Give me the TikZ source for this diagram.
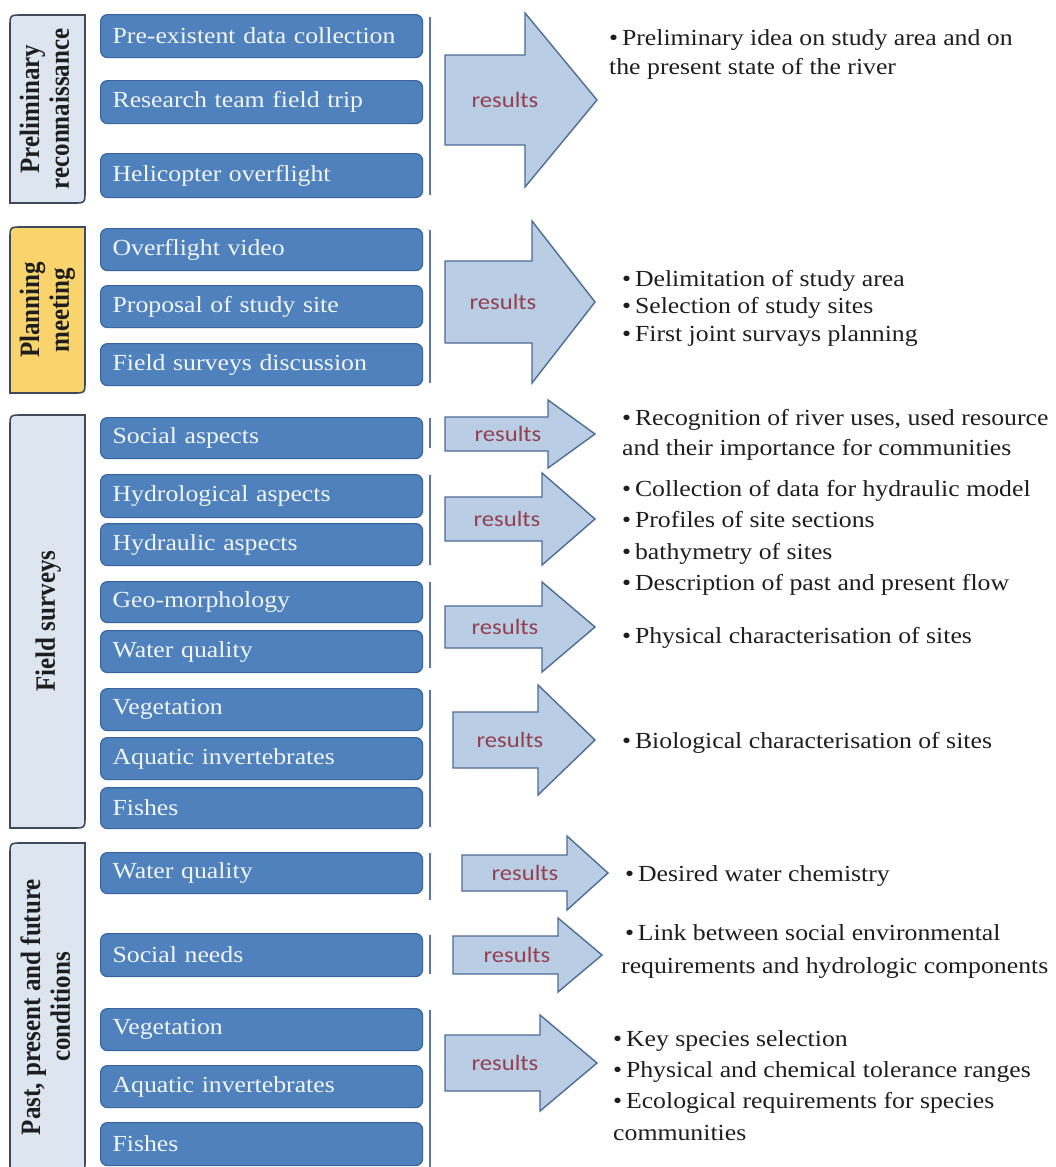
\documentclass[tikz,border=0pt]{standalone}
\usepackage{graphicx}
\usepackage{fontspec}
\setmainfont{Liberation Serif}[FakeStretch=1.12]
\newfontfamily\labelfont{Liberation Serif}
\newfontfamily\resfont{Carlito}[FakeStretch=1.12]
\definecolor{itemblue}{HTML}{4F81BD}
\definecolor{itemedge}{HTML}{3A64A0}
\definecolor{itemtext}{HTML}{F2F5FA}
\definecolor{arrowfill}{HTML}{B9CDE5}
\definecolor{arrowedge}{HTML}{4E6C98}
\definecolor{barcol}{HTML}{5A78A8}
\definecolor{phasefill}{HTML}{DDE5F0}
\definecolor{phaseedge}{HTML}{3E4A5A}
\definecolor{planfill}{HTML}{F9D46C}
\definecolor{rescol}{HTML}{94404F}
\definecolor{ink}{HTML}{1E1E1E}
\tikzset{
  item/.style={draw=itemedge, fill=itemblue, line width=1.2pt, rounded corners=7pt,
    anchor=north west, minimum width=322pt, text width=298pt, inner xsep=12pt,
    align=left, text=itemtext, font=\fontsize{23}{27}\selectfont},
  phase/.style={draw=phaseedge, fill=phasefill, line width=1.6pt},
  phasetext/.style={rotate=90, text=ink, inner sep=0pt,
    font=\labelfont\fontsize{25}{26.5}\selectfont\bfseries},
  resarrow/.style={draw=arrowedge, fill=arrowfill, line width=1.4pt, line join=miter},
  restext/.style={text=rescol, font=\resfont\fontsize{22}{24}\selectfont},
  bar/.style={draw=barcol, line width=2.5pt},
  outcome/.style={anchor=north west, align=left, text=ink, inner sep=0pt},
}
% block arrow: name, left x, head x, tip x, centre y, body half, head half, label x
\newcommand\resarrow[8]{%
  \path[resarrow] (#2,#5-#6) -- (#3,#5-#6) -- (#3,#5-#7) -- (#4,#5)
     -- (#3,#5+#7) -- (#3,#5+#6) -- (#2,#5+#6) -- cycle;
  \node[restext] (#1) at (#8,#5) {results};}
% phase label box with two diagonal rounded corners: top y, bottom y
\newcommand\phasebox[3][phasefill]{%
  \path[phase, fill=#1] (10,#3) -- (10,#2+12) .. controls (10,#2) .. (22,#2)
     -- (85,#2) -- (85,#3-12) .. controls (85,#3) .. (73,#3) -- cycle;}
% upright phase title, widened across the lines
\newcommand\phasetitle[1]{\scalebox{1}[1.12]{\begin{tabular}{@{}c@{}}#1\end{tabular}}}
\begin{document}
\begin{tikzpicture}[x=1pt,y=-1pt]
\clip (0,0) rectangle (1056,1167);
\fill[white] (0,0) rectangle (1056,1167);

% ---- phase labels
\phasebox{15}{203}
\node[phasetext] (p1) at (48,109) {\phasetitle{Preliminary\\reconnaissance}};
\phasebox[planfill]{227}{393}
\node[phasetext] (p2) at (48,310) {\phasetitle{Planning\\meeting}};
\phasebox{415}{828}
\node[phasetext] (p3) at (49,621) {\phasetitle{Field surveys}};
\phasebox{843}{1172}
\node[phasetext] (p4) at (49,1007) {\phasetitle{Past, present and future\\conditions}};

% ---- activity boxes
\node[item, minimum height=43pt] (a1) at (100,14) {Pre-existent data collection};
\node[item, minimum height=43pt] (a2) at (100,80) {Research team field trip};
\node[item, minimum height=44pt] (a3) at (100,153) {Helicopter overflight};

\node[item, minimum height=42pt] (b1) at (100,228) {Overflight video};
\node[item, minimum height=42pt] (b2) at (100,285) {Proposal of study site};
\node[item, minimum height=42pt] (b3) at (100,343) {Field surveys discussion};

\node[item, minimum height=41pt] (c1) at (100,417) {Social aspects};
\node[item, minimum height=43pt] (c2) at (100,474) {Hydrological aspects};
\node[item, minimum height=42pt] (c3) at (100,523) {Hydraulic aspects};
\node[item, minimum height=41pt] (c4) at (100,581) {Geo-morphology};
\node[item, minimum height=42pt] (c5) at (100,630) {Water quality};
\node[item, minimum height=42pt] (c6) at (100,688) {Vegetation};
\node[item, minimum height=42pt] (c7) at (100,737) {Aquatic invertebrates};
\node[item, minimum height=41pt] (c8) at (100,787) {Fishes};

\node[item, minimum height=41pt] (d1) at (100,852) {Water quality};
\node[item, minimum height=43pt] (d2) at (100,933) {Social needs};
\node[item, minimum height=42pt] (d3) at (100,1008) {Vegetation};
\node[item, minimum height=42pt] (d4) at (100,1065) {Aquatic invertebrates};
\node[item, minimum height=43pt] (d5) at (100,1122) {Fishes};

% ---- grouping bars
\draw[bar] (430,17) -- (430,195);
\draw[bar] (430,230) -- (430,383);
\draw[bar] (430,418) -- (430,448);
\draw[bar] (430,475) -- (430,565);
\draw[bar] (430,582) -- (430,668);
\draw[bar] (430,690) -- (430,827);
\draw[bar] (430,853) -- (430,900);
\draw[bar] (430,935) -- (430,974);
\draw[bar] (430,1010) -- (430,1170);

% ---- result arrows
\resarrow{r1}{445}{525}{597}{100}{45}{87}{505}
\resarrow{r2}{445}{532}{595}{302}{41}{81}{503}
\resarrow{r3}{445}{548}{595}{434}{17}{34}{508}
\resarrow{r4}{445}{542}{595}{519}{22}{46}{507}
\resarrow{r5}{445}{542}{595}{627}{21}{45}{505}
\resarrow{r6}{453}{538}{595}{740}{28}{55}{510}
\resarrow{r7}{462}{567}{608}{873}{18}{37}{525}
\resarrow{r8}{453}{558}{602}{955}{19}{37}{517}
\resarrow{r9}{445}{540}{597}{1063}{28}{48}{505}

% ---- outcomes
\node[outcome, font=\fontsize{23}{29}\selectfont] (o1) at (609,29)
  {\textbullet\,Preliminary idea on study area and on\\the present state of the river};
\node[outcome, font=\fontsize{23}{27.5}\selectfont] (o2) at (622,270)
  {\textbullet\,Delimitation of study area\\\textbullet\,Selection of study sites\\\textbullet\,First joint survays planning};
\node[outcome, font=\fontsize{23}{30}\selectfont] (o3) at (622,409)
  {\textbullet\,Recognition of river uses, used resource\\and their importance for communities};
\node[outcome, font=\fontsize{23}{31.3}\selectfont] (o4) at (622,480)
  {\textbullet\,Collection of data for hydraulic model\\\textbullet\,Profiles of site sections\\\textbullet\,bathymetry of sites\\\textbullet\,Description of past and present flow};
\node[outcome, font=\fontsize{23}{28}\selectfont] (o5) at (622,627)
  {\textbullet\,Physical characterisation of sites};
\node[outcome, font=\fontsize{23}{28}\selectfont] (o6) at (622,732)
  {\textbullet\,Biological characterisation of sites};
\node[outcome, font=\fontsize{23}{28}\selectfont] (o7) at (625,865)
  {\textbullet\,Desired water chemistry};
\node[outcome, font=\fontsize{23}{33}\selectfont] (o8) at (621,924)
  {\,\textbullet\,Link between social environmental\\requirements and hydrologic components};
\node[outcome, font=\fontsize{23}{31.3}\selectfont] (o9) at (613,1030)
  {\textbullet\,Key species selection\\\textbullet\,Physical and chemical tolerance ranges\\\textbullet\,Ecological requirements for species\\communities};
\end{tikzpicture}
\end{document}
